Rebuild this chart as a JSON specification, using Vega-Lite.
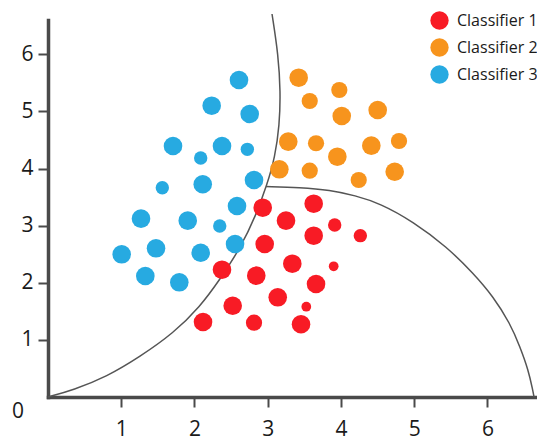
{
  "$schema": "https://vega.github.io/schema/vega-lite/v6.json",
  "width": 487,
  "height": 377,
  "autosize": {"type": "none"},
  "padding": {"left": 48, "top": 20, "right": 2, "bottom": 42},
  "background": "white",
  "config": {
    "view": {"stroke": null},
    "font": "Open Sans",
    "axis": {
      "grid": false,
      "domainColor": "#4a4a4a",
      "domainWidth": 3.5,
      "domainCap": "square",
      "tickColor": "#4a4a4a",
      "tickWidth": 2,
      "tickSize": 10,
      "labelFont": "Open Sans",
      "labelFontSize": 21,
      "labelColor": "#1a1a1a",
      "format": "d"
    }
  },
  "layer": [
    {
      "data": {
        "values": [
          {"curve": "a", "i": 0, "x": 0.0, "y": 0},
          {"curve": "a", "i": 1, "x": 0.345, "y": 0.123},
          {"curve": "a", "i": 2, "x": 0.802, "y": 0.355},
          {"curve": "a", "i": 3, "x": 1.256, "y": 0.706},
          {"curve": "a", "i": 4, "x": 1.711, "y": 1.115},
          {"curve": "a", "i": 5, "x": 2.076, "y": 1.581},
          {"curve": "a", "i": 6, "x": 2.342, "y": 2.048},
          {"curve": "a", "i": 7, "x": 2.636, "y": 2.626},
          {"curve": "a", "i": 8, "x": 2.84, "y": 3.186},
          {"curve": "a", "i": 9, "x": 2.99, "y": 3.711},
          {"curve": "a", "i": 10, "x": 3.1, "y": 4.202},
          {"curve": "a", "i": 11, "x": 3.161, "y": 4.762},
          {"curve": "a", "i": 12, "x": 3.175, "y": 5.34},
          {"curve": "a", "i": 13, "x": 3.145, "y": 5.987},
          {"curve": "a", "i": 14, "x": 3.059, "y": 6.705},
          {"curve": "b", "i": 0, "x": 2.977, "y": 3.685},
          {"curve": "b", "i": 1, "x": 3.441, "y": 3.668},
          {"curve": "b", "i": 2, "x": 3.851, "y": 3.624},
          {"curve": "b", "i": 3, "x": 4.192, "y": 3.528},
          {"curve": "b", "i": 4, "x": 4.534, "y": 3.391},
          {"curve": "b", "i": 5, "x": 4.988, "y": 3.069},
          {"curve": "b", "i": 6, "x": 5.444, "y": 2.631},
          {"curve": "b", "i": 7, "x": 5.808, "y": 2.166},
          {"curve": "b", "i": 8, "x": 6.081, "y": 1.756},
          {"curve": "b", "i": 9, "x": 6.309, "y": 1.29},
          {"curve": "b", "i": 10, "x": 6.445, "y": 0.881},
          {"curve": "b", "i": 11, "x": 6.559, "y": 0.473},
          {"curve": "b", "i": 12, "x": 6.619, "y": 0.123},
          {"curve": "b", "i": 13, "x": 6.637, "y": 0}
        ]
      },
      "mark": {"type": "line", "interpolate": "basis", "color": "#555555", "strokeWidth": 1.5},
      "encoding": {
        "x": {
          "field": "x", "type": "quantitative",
          "scale": {"domain": [0, 6.65], "nice": false, "zero": false},
          "axis": {"title": null, "values": [1, 2, 3, 4, 5, 6], "labelPadding": 11,
                   "encode": {"ticks": {"update": {"y": {"value": -10}}}}}
        },
        "y": {
          "field": "y", "type": "quantitative",
          "scale": {"domain": [0, 6.6], "nice": false, "zero": false},
          "axis": {"title": null, "values": [1, 2, 3, 4, 5, 6], "labelPadding": 5,
                   "encode": {"ticks": {"update": {"x": {"value": 10}}}}}
        },
        "detail": {"field": "curve"},
        "order": {"field": "i", "type": "quantitative"}
      }
    },
    {
      "data": {
        "values": [
          {"classifier": "Classifier 3", "x": 2.608, "y": 5.55, "w": 4},
          {"classifier": "Classifier 3", "x": 2.235, "y": 5.1, "w": 4},
          {"classifier": "Classifier 3", "x": 2.754, "y": 4.954, "w": 4},
          {"classifier": "Classifier 3", "x": 1.707, "y": 4.394, "w": 4},
          {"classifier": "Classifier 3", "x": 2.376, "y": 4.394, "w": 4},
          {"classifier": "Classifier 3", "x": 2.085, "y": 4.184, "w": 2},
          {"classifier": "Classifier 3", "x": 2.722, "y": 4.336, "w": 2},
          {"classifier": "Classifier 3", "x": 1.561, "y": 3.664, "w": 2},
          {"classifier": "Classifier 3", "x": 2.113, "y": 3.724, "w": 4},
          {"classifier": "Classifier 3", "x": 2.813, "y": 3.799, "w": 4},
          {"classifier": "Classifier 3", "x": 2.581, "y": 3.344, "w": 4},
          {"classifier": "Classifier 3", "x": 1.27, "y": 3.122, "w": 4},
          {"classifier": "Classifier 3", "x": 1.908, "y": 3.087, "w": 4},
          {"classifier": "Classifier 3", "x": 2.345, "y": 2.994, "w": 2},
          {"classifier": "Classifier 3", "x": 1.475, "y": 2.603, "w": 4},
          {"classifier": "Classifier 3", "x": 1.006, "y": 2.498, "w": 4},
          {"classifier": "Classifier 3", "x": 2.085, "y": 2.526, "w": 4},
          {"classifier": "Classifier 3", "x": 2.554, "y": 2.679, "w": 4},
          {"classifier": "Classifier 3", "x": 1.329, "y": 2.118, "w": 4},
          {"classifier": "Classifier 3", "x": 1.793, "y": 2.008, "w": 4},
          {"classifier": "Classifier 2", "x": 3.423, "y": 5.59, "w": 4},
          {"classifier": "Classifier 2", "x": 3.978, "y": 5.375, "w": 3},
          {"classifier": "Classifier 2", "x": 3.574, "y": 5.182, "w": 3},
          {"classifier": "Classifier 2", "x": 4.011, "y": 4.919, "w": 4},
          {"classifier": "Classifier 2", "x": 4.502, "y": 5.025, "w": 4},
          {"classifier": "Classifier 2", "x": 3.281, "y": 4.47, "w": 4},
          {"classifier": "Classifier 2", "x": 3.66, "y": 4.442, "w": 3},
          {"classifier": "Classifier 2", "x": 3.951, "y": 4.207, "w": 4},
          {"classifier": "Classifier 2", "x": 4.415, "y": 4.4, "w": 4},
          {"classifier": "Classifier 2", "x": 4.793, "y": 4.482, "w": 3},
          {"classifier": "Classifier 2", "x": 3.159, "y": 3.986, "w": 4},
          {"classifier": "Classifier 2", "x": 3.574, "y": 3.962, "w": 3},
          {"classifier": "Classifier 2", "x": 4.243, "y": 3.799, "w": 3},
          {"classifier": "Classifier 2", "x": 4.734, "y": 3.944, "w": 4},
          {"classifier": "Classifier 1", "x": 2.932, "y": 3.314, "w": 4},
          {"classifier": "Classifier 1", "x": 3.628, "y": 3.384, "w": 4},
          {"classifier": "Classifier 1", "x": 3.25, "y": 3.087, "w": 4},
          {"classifier": "Classifier 1", "x": 3.915, "y": 3.011, "w": 2},
          {"classifier": "Classifier 1", "x": 3.628, "y": 2.824, "w": 4},
          {"classifier": "Classifier 1", "x": 4.265, "y": 2.824, "w": 2},
          {"classifier": "Classifier 1", "x": 2.959, "y": 2.679, "w": 4},
          {"classifier": "Classifier 1", "x": 3.336, "y": 2.334, "w": 4},
          {"classifier": "Classifier 1", "x": 3.901, "y": 2.288, "w": 1},
          {"classifier": "Classifier 1", "x": 2.376, "y": 2.229, "w": 4},
          {"classifier": "Classifier 1", "x": 2.844, "y": 2.124, "w": 4},
          {"classifier": "Classifier 1", "x": 3.66, "y": 1.978, "w": 4},
          {"classifier": "Classifier 1", "x": 3.137, "y": 1.745, "w": 4},
          {"classifier": "Classifier 1", "x": 2.522, "y": 1.598, "w": 4},
          {"classifier": "Classifier 1", "x": 3.527, "y": 1.581, "w": 1},
          {"classifier": "Classifier 1", "x": 2.117, "y": 1.313, "w": 4},
          {"classifier": "Classifier 1", "x": 2.813, "y": 1.301, "w": 3},
          {"classifier": "Classifier 1", "x": 3.455, "y": 1.273, "w": 4}
        ]
      },
      "mark": {"type": "circle", "opacity": 1},
      "encoding": {
        "x": {"field": "x", "type": "quantitative"},
        "y": {"field": "y", "type": "quantitative"},
        "color": {
          "field": "classifier", "type": "nominal",
          "scale": {"domain": ["Classifier 1", "Classifier 2", "Classifier 3"], "range": ["#F81B25", "#F7941D", "#27AAE1"]},
          "legend": {
            "orient": "none", "legendX": 382, "legendY": -9, "title": null,
            "symbolType": "circle", "symbolSize": 336, "symbolStrokeWidth": 0, "symbolOpacity": 1,
            "labelFont": "Open Sans", "labelFontSize": 16, "labelColor": "#1a1a1a",
            "labelOffset": 8, "rowPadding": 8, "padding": 0
          }
        },
        "size": {
          "field": "w", "type": "quantitative",
          "scale": {"domain": [1, 4], "range": [95, 346]},
          "legend": null
        }
      }
    },
    {
      "data": {"values": [{"x": 0, "y": 0, "t": "0"}]},
      "mark": {"type": "text", "dx": -30, "dy": 15, "fontSize": 21, "font": "Open Sans", "color": "#1a1a1a", "align": "center", "baseline": "middle"},
      "encoding": {
        "x": {"field": "x", "type": "quantitative"},
        "y": {"field": "y", "type": "quantitative"},
        "text": {"field": "t"}
      }
    }
  ]
}
